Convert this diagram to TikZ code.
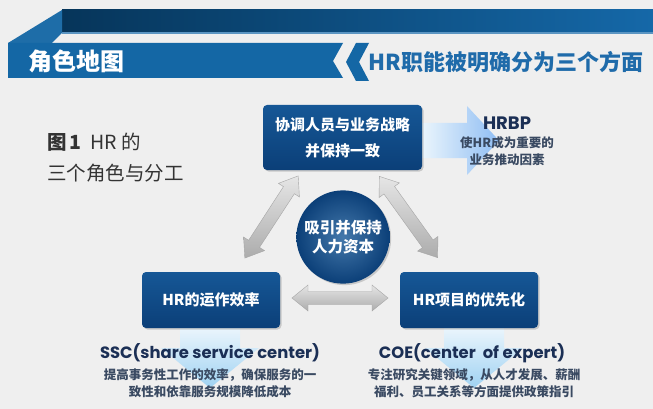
\documentclass[tikz,border=0pt]{standalone}
\usepackage{fontspec}
\newfontfamily\cjk{Noto Sans CJK SC}
\newfontfamily\pop{Poppins}
\usetikzlibrary{shadows,calc}
\definecolor{bg}{HTML}{EFEFEF}
\definecolor{darkL}{HTML}{06355A}
\definecolor{darkR}{HTML}{1568A8}
\definecolor{foldblue}{HTML}{1E6DA8}
\definecolor{bandblue}{HTML}{1467A5}
\definecolor{headblue}{HTML}{1F6BAA}
\definecolor{boxtop}{HTML}{165796}
\definecolor{boxbot}{HTML}{0B3F78}
\definecolor{navy}{HTML}{1B2F55}
\definecolor{subgray}{HTML}{3A4A62}
\definecolor{paleblue}{HTML}{EAF5FC}
\definecolor{lightblue}{HTML}{9FD2F2}
\tikzset{
  hrbox/.style={rounded corners=4pt, top color=boxtop, bottom color=boxbot,
    text=white, font=\cjk\bfseries\fontsize{15}{26}\selectfont, align=center,
    drop shadow={shadow xshift=1.5pt, shadow yshift=-1.5pt, opacity=0.35}},
  grayarrow/.style={top color=gray!20, bottom color=gray!65, draw=gray!70, line width=0.4pt},
  downarrow/.style={top color=paleblue, bottom color=lightblue},
  headtxt/.style={font=\pop\bfseries\fontsize{16.4}{18}\selectfont, text=navy},
  subtxt/.style={font=\cjk\bfseries\fontsize{12.5}{17}\selectfont, text=subgray, align=center},
  captxt/.style={anchor=west, inner sep=0, text=black!80, font=\cjk\fontsize{19.5}{22}\selectfont},
}
\begin{document}
\begin{tikzpicture}[x=1pt,y=-1pt]
\useasboundingbox (0,0) rectangle (653,409);
\fill[bg] (0,0) rectangle (653,409);
% header bands
\shade[left color=darkL, right color=darkR] (62,10) rectangle (653,33);
\fill[darkR!70!white] (62,32) rectangle (653,34);
\fill[foldblue] (8,43) -- (62,10) -- (62,33) -- (52,43) -- cycle;
\fill[bandblue] (8,43) -- (343,43) -- (333,61) -- (343,78) -- (8,78) -- cycle;
\fill[bandblue] (356,43) -- (369,43) -- (359,62) -- (369,81) -- (356,81) -- (346,62) -- cycle;
\node[text=white, font=\cjk\bfseries\fontsize{24}{26}\selectfont] (title) at (76,61) {角色地图};
\node[text=headblue, font=\cjk\bfseries\fontsize{22}{26}\selectfont] (subtitle) at (506,62) {HR职能被明确分为三个方面};
% caption
\node[captxt] (cap1) at (47,142) {\textbf{图\,1}\ \ HR 的};
\node[captxt] (cap2) at (47,173) {三个角色与分工};
% light blue arrows (behind)
\shade[left color=paleblue, right color=lightblue!90!blue] (422,123) -- (467,123) -- (467,106) -- (499,140.5) -- (467,175) -- (467,158) -- (422,158) -- cycle;
\shade[downarrow] (180,328) -- (240,328) -- (240,348) -- (259,348) -- (210,388) -- (161,348) -- (180,348) -- cycle;
\shade[downarrow] (444,328) -- (504,328) -- (504,348) -- (523,348) -- (474,388) -- (425,348) -- (444,348) -- cycle;
% boxes
\node[hrbox, minimum width=159pt, minimum height=65pt] (top) at (342.5,137.5) {协调人员与业务战略\\并保持一致};
\node[hrbox, minimum width=138pt, minimum height=56pt] (left) at (211,300) {HR的运作效率};
\node[hrbox, minimum width=138pt, minimum height=56pt] (right) at (469,300) {HR项目的优先化};
\node[circle, minimum size=90pt, inner color=boxtop!80!white, outer color=boxbot,
  drop shadow={shadow xshift=1.5pt, shadow yshift=-1.5pt, opacity=0.35},
  text=white, align=center, font=\cjk\bfseries\fontsize{15.5}{19}\selectfont] (core) at (343,237) {吸引并保持\\人力资本};
% gray double arrows
\begin{scope}[shift={(340,298)}]
\shade[grayarrow] (-48,0) -- (-32,-13) -- (-32,-6.5) -- (32,-6.5) -- (32,-13) -- (48,0) -- (32,13) -- (32,6.5) -- (-32,6.5) -- (-32,13) -- cycle;
\end{scope}
\begin{scope}[shift={(271.5,217)}, rotate=57]
\shade[grayarrow] (-49,0) -- (-32,-12.5) -- (-32,-6.5) -- (32,-6.5) -- (32,-12.5) -- (49,0) -- (32,12.5) -- (32,6.5) -- (-32,6.5) -- (-32,12.5) -- cycle;
\end{scope}
\begin{scope}[shift={(408.5,217)}, rotate=125.7]
\shade[grayarrow] (-50,0) -- (-33,-12.5) -- (-33,-6.5) -- (33,-6.5) -- (33,-12.5) -- (50,0) -- (33,12.5) -- (33,6.5) -- (-33,6.5) -- (-33,12.5) -- cycle;
\end{scope}
% HRBP
\node[headtxt, font=\pop\bfseries\fontsize{18}{20}\selectfont] (hrbp) at (507,123) {HRBP};
\node[subtxt] (hrbpsub) at (507,151.5) {使HR成为重要的\\业务推动因素};
% SSC / COE
\node[headtxt] (ssc) at (210,353) {SSC(share service center)};
\node[subtxt] (sscsub) at (210,383.5) {提高事务性工作的效率，确保服务的一\\致性和依靠服务规模降低成本};
\node[headtxt] (coe) at (472,353) {COE(center\ \ of expert)};
\node[subtxt] (coesub) at (474,383.5) {专注研究关键领域，从人才发展、薪酬\\福利、员工关系等方面提供政策指引};
\end{tikzpicture}
\end{document}
